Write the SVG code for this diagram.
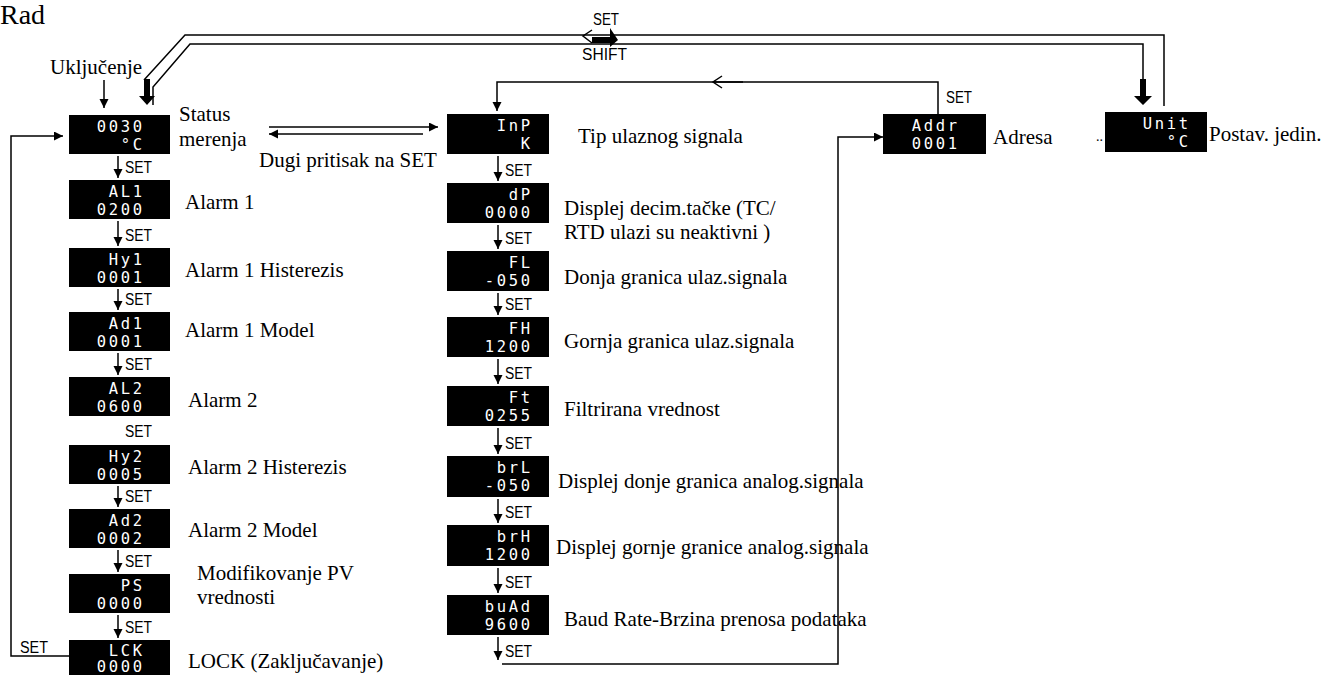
<svg xmlns="http://www.w3.org/2000/svg" width="1324" height="675" viewBox="0 0 1324 675">
<style>
.lbl{font-family:"Liberation Serif","Times New Roman",serif;font-size:21px;fill:#000}
.set{font-family:"Liberation Sans",sans-serif;font-size:16px;fill:#000}
.box{fill:#000}
.dt{font-family:"DejaVu Sans Mono",monospace;font-size:15.5px;fill:#fff;letter-spacing:2.6px;text-anchor:end}
.ln{stroke:#000;stroke-width:1.5;fill:none}
.arr{stroke:#000;stroke-width:1.5;fill:none;marker-end:url(#ah)}
</style>
<defs>
<marker id="ah" markerUnits="userSpaceOnUse" markerWidth="10" markerHeight="10" refX="9" refY="4.5" orient="auto">
<path d="M0,0 L9,4.5 L0,9 z" fill="#000"/>
</marker>
</defs>
<rect width="1324" height="675" fill="#fff"/>
<text class="lbl" x="0" y="24" style="font-size:28px">Rad</text>
<text class="lbl" x="50" y="74">Uključenje</text>

<g id="n-status"><rect class="box" x="69" y="115" width="101" height="39"/><text class="dt" x="144.6" y="132">0030</text><text class="dt" x="144.6" y="150">°C</text>
<text class="lbl" x="179" y="121">Status</text><text class="lbl" x="179" y="146">merenja</text></g>
<g id="n-al1"><rect class="box" x="69" y="180" width="101" height="39"/><text class="dt" x="144.6" y="197">AL1</text><text class="dt" x="144.6" y="215">0200</text><text class="lbl" x="185" y="209">Alarm 1</text></g>
<g id="n-hy1"><rect class="box" x="69" y="248" width="101" height="39"/><text class="dt" x="144.6" y="265">Hy1</text><text class="dt" x="144.6" y="283">0001</text><text class="lbl" x="185" y="277">Alarm 1 Histerezis</text></g>
<g id="n-ad1"><rect class="box" x="69" y="312" width="101" height="39"/><text class="dt" x="144.6" y="329">Ad1</text><text class="dt" x="144.6" y="347">0001</text><text class="lbl" x="185" y="337">Alarm 1 Model</text></g>
<g id="n-al2"><rect class="box" x="69" y="377" width="101" height="39"/><text class="dt" x="144.6" y="394">AL2</text><text class="dt" x="144.6" y="412">0600</text><text class="lbl" x="188" y="407">Alarm 2</text></g>
<g id="n-hy2"><rect class="box" x="69" y="445" width="101" height="39"/><text class="dt" x="144.6" y="462">Hy2</text><text class="dt" x="144.6" y="480">0005</text><text class="lbl" x="188" y="474">Alarm 2 Histerezis</text></g>
<g id="n-ad2"><rect class="box" x="69" y="509" width="101" height="39"/><text class="dt" x="144.6" y="526">Ad2</text><text class="dt" x="144.6" y="544">0002</text><text class="lbl" x="188" y="537">Alarm 2 Model</text></g>
<g id="n-ps"><rect class="box" x="69" y="574" width="101" height="39"/><text class="dt" x="144.6" y="591">PS</text><text class="dt" x="144.6" y="609">0000</text><text class="lbl" x="197" y="580">Modifikovanje PV</text><text class="lbl" x="197" y="604">vrednosti</text></g>
<g id="n-lck"><rect class="box" x="69" y="640" width="101" height="40"/><text class="dt" x="144.6" y="656">LCK</text><text class="dt" x="144.6" y="672">0000</text><text class="lbl" x="188" y="668">LOCK (Zaključavanje)</text></g>

<g id="n-inp"><rect class="box" x="447" y="114" width="102" height="40"/><text class="dt" x="532.6" y="131">InP</text><text class="dt" x="532.6" y="149">K</text><text class="lbl" x="578" y="143">Tip ulaznog signala</text></g>
<g id="n-dp"><rect class="box" x="447" y="183" width="102" height="40"/><text class="dt" x="532.6" y="200">dP</text><text class="dt" x="532.6" y="218">0000</text><text class="lbl" x="564" y="215">Displej decim.tačke (TC/</text><text class="lbl" x="564" y="239">RTD ulazi su neaktivni )</text></g>
<g id="n-fl"><rect class="box" x="447" y="251" width="102" height="40"/><text class="dt" x="532.6" y="268">FL</text><text class="dt" x="532.6" y="286">-050</text><text class="lbl" x="564" y="284">Donja granica ulaz.signala</text></g>
<g id="n-fh"><rect class="box" x="447" y="317" width="102" height="40"/><text class="dt" x="532.6" y="334">FH</text><text class="dt" x="532.6" y="352">1200</text><text class="lbl" x="564" y="348">Gornja granica ulaz.signala</text></g>
<g id="n-ft"><rect class="box" x="447" y="386" width="102" height="40"/><text class="dt" x="532.6" y="403">Ft</text><text class="dt" x="532.6" y="421">0255</text><text class="lbl" x="564" y="416">Filtrirana vrednost</text></g>
<g id="n-brl"><rect class="box" x="447" y="456" width="102" height="41"/><text class="dt" x="532.6" y="473">brL</text><text class="dt" x="532.6" y="491">-050</text><text class="lbl" x="558" y="488">Displej donje granica analog.signala</text></g>
<g id="n-brh"><rect class="box" x="447" y="525" width="102" height="41"/><text class="dt" x="532.6" y="542">brH</text><text class="dt" x="532.6" y="560">1200</text><text class="lbl" x="556" y="554">Displej gornje granice analog.signala</text></g>
<g id="n-baud"><rect class="box" x="447" y="595" width="102" height="40"/><text class="dt" x="532.6" y="612">buAd</text><text class="dt" x="532.6" y="630">9600</text><text class="lbl" x="564" y="626">Baud Rate-Brzina prenosa podataka</text></g>

<g id="n-addr"><rect class="box" x="883" y="114" width="103" height="40"/><text class="dt" x="959.6" y="131">Addr</text><text class="dt" x="959.6" y="149">0001</text><text class="lbl" x="993" y="144">Adresa</text></g>
<g id="n-unit"><rect class="box" x="1105" y="112" width="102" height="40"/><text class="dt" x="1190.6" y="129">Unit</text><text class="dt" x="1190.6" y="147">°C</text><text class="lbl" x="1209" y="141">Postav. jedin.</text><text class="lbl" x="1096" y="141" style="font-size:14px">..</text></g>

<g id="connectors">
<line class="arr" x1="104" y1="80" x2="104" y2="108"/>
<line class="arr" x1="118" y1="156" x2="118" y2="178"/><text class="set" x="125" y="173" textLength="27" lengthAdjust="spacingAndGlyphs">SET</text>
<line class="arr" x1="118" y1="221" x2="118" y2="246"/><text class="set" x="125" y="241" textLength="27" lengthAdjust="spacingAndGlyphs">SET</text>
<line class="arr" x1="118" y1="289" x2="118" y2="310"/><text class="set" x="125" y="305" textLength="27" lengthAdjust="spacingAndGlyphs">SET</text>
<line class="arr" x1="118" y1="353" x2="118" y2="375"/><text class="set" x="125" y="370" textLength="27" lengthAdjust="spacingAndGlyphs">SET</text>
<text class="set" x="125" y="437" textLength="27" lengthAdjust="spacingAndGlyphs">SET</text>
<line class="arr" x1="118" y1="486" x2="118" y2="507"/><text class="set" x="125" y="502" textLength="27" lengthAdjust="spacingAndGlyphs">SET</text>
<line class="arr" x1="118" y1="550" x2="118" y2="572"/><text class="set" x="125" y="567" textLength="27" lengthAdjust="spacingAndGlyphs">SET</text>
<line class="arr" x1="118" y1="615" x2="118" y2="638"/><text class="set" x="125" y="633" textLength="27" lengthAdjust="spacingAndGlyphs">SET</text>
<polyline class="arr" points="69,656 11,656 11,136 63,136"/>
<text class="set" x="20" y="653" textLength="28" lengthAdjust="spacingAndGlyphs">SET</text>
<line class="arr" x1="269" y1="127" x2="438" y2="127"/>
<line class="arr" x1="423" y1="134" x2="269" y2="134"/>
<text class="lbl" x="259" y="167">Dugi pritisak na SET</text>
<line class="arr" x1="498" y1="156" x2="498" y2="181"/><text class="set" x="505" y="176" textLength="27" lengthAdjust="spacingAndGlyphs">SET</text>
<line class="arr" x1="498" y1="225" x2="498" y2="249"/><text class="set" x="505" y="244" textLength="27" lengthAdjust="spacingAndGlyphs">SET</text>
<line class="arr" x1="498" y1="293" x2="498" y2="315"/><text class="set" x="505" y="310" textLength="27" lengthAdjust="spacingAndGlyphs">SET</text>
<line class="arr" x1="498" y1="359" x2="498" y2="384"/><text class="set" x="505" y="379" textLength="27" lengthAdjust="spacingAndGlyphs">SET</text>
<line class="arr" x1="498" y1="428" x2="498" y2="454"/><text class="set" x="505" y="449" textLength="27" lengthAdjust="spacingAndGlyphs">SET</text>
<line class="arr" x1="498" y1="499" x2="498" y2="523"/><text class="set" x="505" y="518" textLength="27" lengthAdjust="spacingAndGlyphs">SET</text>
<line class="arr" x1="498" y1="568" x2="498" y2="593"/><text class="set" x="505" y="588" textLength="27" lengthAdjust="spacingAndGlyphs">SET</text>
<line class="arr" x1="498" y1="637" x2="498" y2="660"/><text class="set" x="505" y="657" textLength="27" lengthAdjust="spacingAndGlyphs">SET</text>
<polyline class="arr" points="502,664 838,664 838,137 883,137"/>
<polyline class="arr" points="938,114 938,82 497,82 497,111"/>
<path class="ln" d="M722,76 L713,82 L722,88 M713,82 L743,82"/>
<text class="set" x="946" y="103" textLength="26" lengthAdjust="spacingAndGlyphs">SET</text>
<polyline class="ln" points="1164,106 1164,35 185,35 144,80"/>
<path d="M144,79 L150,79 L150,96 L155,96 L147,105 L139,96 L144,96 z" fill="#000"/>
<polyline class="ln" points="153,105 153,87 190,44 1143,44 1143,80"/>
<path d="M1140,79 L1146,79 L1146,96 L1152,96 L1143,105 L1134,96 L1140,96 z" fill="#000"/>
<path class="ln" d="M592,30 L583,36 L592,43"/>
<path d="M592,37 L610,37 L610,28 L618,40 L610,47 L610,43 L592,43 z" fill="#000"/>
<text class="set" x="593" y="25" textLength="26" lengthAdjust="spacingAndGlyphs">SET</text>
<text class="set" x="582" y="60" textLength="45" lengthAdjust="spacingAndGlyphs">SHIFT</text>
</g>
</svg>
